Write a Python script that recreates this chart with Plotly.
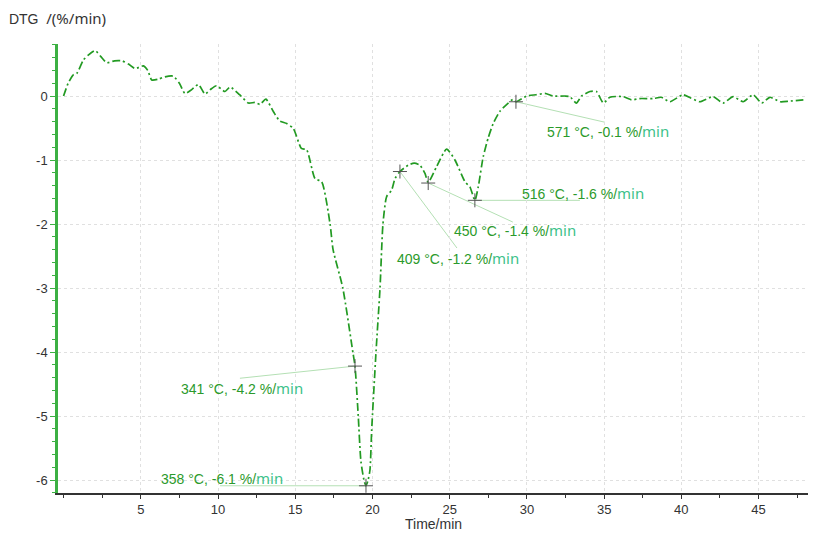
import plotly.graph_objects as go

# ---- data ----
time_min = [0, 0.3, 0.63, 0.85, 1.28, 1.6, 2.04, 2.4, 2.8, 3.3, 3.77, 4.2, 4.63, 5.17, 5.45,
            5.71, 6.1, 6.57, 7.1, 7.5, 7.86, 8.3, 8.73, 9.16, 9.5, 9.9, 10.45, 10.78, 11.4,
            11.96, 12.4, 12.72, 13.1, 13.6, 14.0, 14.45, 14.88, 15.4, 15.74, 16.28, 16.71,
            17.25, 17.45, 18.08, 18.73, 18.87, 19.08, 19.25, 19.45, 19.58, 19.72, 19.84, 19.95,
            20.23, 20.49, 20.68, 20.92,
            21.24, 21.46, 21.78, 22.32, 22.7, 23.07, 23.4, 23.61, 24.16, 24.8, 25.34, 25.99,
            26.31, 26.63, 26.85, 27.17, 27.5, 27.82, 28.25, 28.79, 29.11, 29.29, 29.98, 30.6,
            31.17, 31.7, 32.46, 32.78, 33.2, 33.54, 34.08, 34.5, 34.95, 35.37, 36.23, 36.78,
            37.3, 38.17, 38.7, 39.26, 40.1, 40.6, 41.2, 42.06, 42.7, 43.35, 44.0, 44.65, 45.2,
            45.73, 46.4, 47.0, 47.9]
dtg = [0, 0.2, 0.33, 0.35, 0.56, 0.64, 0.71, 0.62, 0.52, 0.55, 0.55, 0.5, 0.43, 0.47, 0.4,
       0.25, 0.26, 0.30, 0.31, 0.2, 0.04, 0.1, 0.18, 0.03, 0.1, 0.16, 0.07, 0.14, 0.02,
       -0.11, -0.1, -0.13, -0.05, -0.25, -0.39, -0.43, -0.51, -0.82, -0.84, -1.29, -1.34,
       -1.99, -2.4, -3.0, -4.0, -4.22, -5.0, -5.7, -6.0, -6.09, -6.0, -5.84, -5.22,
       -4.0, -3.0, -2.0, -1.57,
       -1.47, -1.29, -1.18, -1.08, -1.05, -1.08, -1.21, -1.35, -1.1, -0.83, -1.0, -1.34,
       -1.42, -1.63, -1.42, -0.95, -0.65, -0.43, -0.24, -0.11, -0.05, -0.09, 0, 0.02,
       0.04, 0, 0, -0.01, -0.11, 0, 0.07, 0.07, -0.11, -0.02, -0.01, -0.06,
       -0.04, -0.04, -0.02, -0.09, 0.02, -0.03, -0.09, -0.01, -0.11, -0.01, -0.09, 0.02, -0.11,
       -0.02, -0.09, -0.08, -0.06]

# annotated peaks
peak_time = [18.87, 19.58, 21.78, 23.61, 26.63, 29.29]
peak_rate = [-4.22, -6.09, -1.18, -1.36, -1.63, -0.09]
peak_temp = [341, 358, 409, 450, 516, 571]
# leader-line end points and label anchor positions (data coords)
lead_x = [11.42, 10.13, 25.47, 29.09, 33.43, 35.05]
lead_y = [-4.41, -6.09, -2.375, -1.97, -1.63, -0.41]
label_x = [7.47, 6.18, 21.46, 25.15, 29.54, 31.17]
label_y = [-4.56, -5.97, -2.53, -2.09, -1.52, -0.55]

x_ticks = [5, 10, 15, 20, 25, 30, 35, 40, 45]
y_ticks = [0, -1, -2, -3, -4, -5, -6]

LINE_GREEN = "#229a22"
TEXT_GREEN = "#2b9a2b"
MIN_GREEN = "#3cc28a"
LEAD_GREEN = "#b4e0b4"

fig = go.Figure()

for lx, ly, px, py in zip(lead_x, lead_y, peak_time, peak_rate):
    fig.add_shape(type="line", x0=px, y0=py, x1=lx, y1=ly, xref="x", yref="y",
                  line=dict(color=LEAD_GREEN, width=1), layer="below")

fig.add_trace(go.Scatter(
    x=time_min, y=dtg, mode="lines",
    line=dict(color=LINE_GREEN, width=1.7, dash="8px,3px,2px,3px", shape="spline", smoothing=0.6),
    hoverinfo="skip", showlegend=False))

fig.add_trace(go.Scatter(
    x=peak_time, y=peak_rate, mode="markers",
    marker=dict(symbol="cross-thin", size=10, line=dict(width=1, color="#555555")),
    showlegend=False, hoverinfo="skip"))

for tx, ty, temp, rate in zip(label_x, label_y, peak_temp, peak_rate):
    fig.add_annotation(
        x=tx, y=ty, xref="x", yref="y", xanchor="left", yanchor="middle", showarrow=False,
        text=(f"{temp} °C, {rate:.1f} %/<span style='color:{MIN_GREEN};"
              f"font-family:Noto Sans;font-size:15px'>min</span>"),
        font=dict(family="Liberation Sans, Arial", size=14, color=TEXT_GREEN))

fig.add_annotation(x=0.5, y=-0.069, xref="paper", yref="paper", xanchor="center",
                   yanchor="middle", showarrow=False, text="Time/min",
                   font=dict(family="Liberation Sans, Arial", size=14, color="#333333"))

fig.update_layout(
    width=813, height=534,
    margin=dict(l=58, r=5, t=44, b=41),
    paper_bgcolor="white", plot_bgcolor="white",
    title=dict(text="DTG  <span style='font-family:Noto Sans;font-size:15px'>/(%/min)</span>",
               x=0.011, xanchor="left", xref="container",
               y=0.964, yanchor="middle", yref="container",
               font=dict(family="Liberation Sans, Arial", size=14, color="#333333")),
    xaxis=dict(range=[-0.36, 48.2], tickvals=x_ticks, ticktext=[str(v) for v in x_ticks],
               showgrid=True, gridcolor="#e0e0e0", griddash="dot", gridwidth=1,
               zeroline=False, showline=True, linecolor="#333333", linewidth=1.5,
               ticks="outside", ticklen=4, tickcolor="#333333",
               minor=dict(dtick=2.5, tick0=0, ticks="outside", ticklen=3, tickcolor="#333333", showgrid=False),
               tickfont=dict(family="Liberation Sans, Arial", size=13, color="#333333")),
    yaxis=dict(range=[-6.203, 0.8125], tickvals=y_ticks, ticktext=[str(v) for v in y_ticks],
               showgrid=True, gridcolor="#e0e0e0", griddash="dot", gridwidth=1,
               zeroline=False, showline=True, linecolor="#3cb043", linewidth=2.5,
               ticks="outside", ticklen=5, tickcolor="#3cb043",
               minor=dict(dtick=0.2, tick0=0, ticks="outside", ticklen=3, tickcolor="#3cb043", showgrid=False),
               tickfont=dict(family="Liberation Sans, Arial", size=13, color="#333333")),
)

fig.write_html("out.html")
